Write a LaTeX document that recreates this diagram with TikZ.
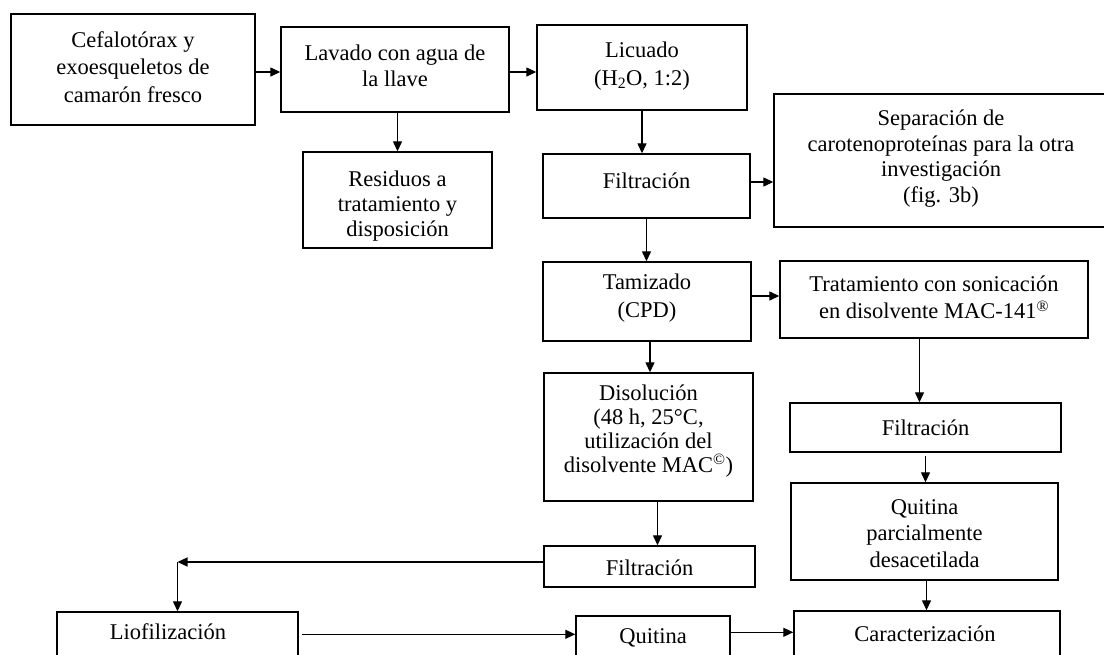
\documentclass[tikz,border=0pt]{standalone}
\usepackage{fontspec}
\setmainfont{Liberation Serif}
\usetikzlibrary{arrows.meta}
\begin{document}
\begin{tikzpicture}[x=1pt,y=-1pt,
  box/.style={draw,line width=1.4pt,rectangle,inner sep=0pt},
  txt/.style={align=center,inner sep=0pt,font=\fontsize{22.5}{#1}\selectfont},
  txt/.default=25,
  arr/.style={line width=1.3pt,-{Triangle[length=10pt,width=9pt]}}]
\useasboundingbox (0,0) rectangle (1104,654);
\clip (0,0) rectangle (1104,654);
% boxes
\node[box,minimum width=244pt,minimum height=111pt] (cef) at (133,69.5) {};
\node[box,minimum width=228pt,minimum height=85pt] (lav) at (395,69.5) {};
\node[box,minimum width=210pt,minimum height=85pt] (lic) at (642,67.5) {};
\node[box,minimum width=189pt,minimum height=96pt] (res) at (397.5,200) {};
\node[box,minimum width=207pt,minimum height=64pt] (fil1) at (646.5,186) {};
\node[box,minimum width=334pt,minimum height=133pt] (sep) at (941,160.5) {};
\node[box,minimum width=208pt,minimum height=79pt] (tam) at (647,301.5) {};
\node[box,minimum width=308pt,minimum height=77pt] (tra) at (934,299.5) {};
\node[box,minimum width=209pt,minimum height=128pt] (dis) at (648.5,437) {};
\node[box,minimum width=271pt,minimum height=49pt] (fil3) at (925.5,427.5) {};
\node[box,minimum width=267pt,minimum height=97pt] (qp) at (924.5,531.5) {};
\node[box,minimum width=211pt,minimum height=41pt] (fil2) at (649.5,566.5) {};
\node[box,minimum width=241pt,minimum height=80pt] (lio) at (177.5,652) {};
\node[box,minimum width=154pt,minimum height=80pt] (qui) at (653,656) {};
\node[box,minimum width=266pt,minimum height=80pt] (car) at (927,651) {};
% texts
\node[txt=27.5] (cef-t) at (133,67) {Cefalotórax y\\exoesqueletos de\\camarón fresco};
\node[txt=26] (lav-t) at (395,65.5) {Lavado con agua de\\la llave};
\node[txt=28] (lic-t) at (642,66) {Licuado\\(H\textsubscript{2}O, 1:2)};
\node[txt=25] (res-t) at (397.5,206.5) {Residuos a\\tratamiento y\\disposición};
\node[txt] (fil1-t) at (646.5,181) {Filtración};
\node[txt=25.5] (sep-t) at (941,158.5) {Separación de\\carotenoproteínas para la otra\\investigación\\(fig. 3b)};
\node[txt=28.5] (tam-t) at (647,298) {Tamizado\\(CPD)};
\node[txt=27.5] (tra-t) at (934,297.5) {Tratamiento con sonicación\\en disolvente MAC-141\textsuperscript{®}};
\node[txt=24] (dis-t) at (648.5,431) {Disolución\\(48 h, 25°C,\\utilización del\\disolvente MAC\textsuperscript{©})};
\node[txt] (fil3-t) at (925.5,428) {Filtración};
\node[txt=26.5] (qp-t) at (924.5,533.5) {Quitina\\parcialmente\\desacetilada};
\node[txt] (fil2-t) at (649.5,568) {Filtración};
\node[txt] (lio-t) at (168,632) {Liofilización};
\node[txt] (qui-t) at (653,638) {Quitina};
\node[txt] (car-t) at (925,634) {Caracterización};
% connectors
\draw[arr] ([yshift=-2.5pt]cef.east) -- ([yshift=-2.5pt]cef.east -| lav.west);
\draw[arr] ([yshift=-2.5pt]lav.east) -- ([yshift=-2.5pt]lav.east -| lic.west);
\draw[arr] (res.north |- lav.south) -- (res.north);
\draw[arr] (lic.south) -- (lic.south |- fil1.north);
\draw[arr] ([yshift=4pt]fil1.east) -- ([yshift=4pt]fil1.east -| sep.west);
\draw[arr] (fil1.south) -- (fil1.south |- tam.north);
\draw[arr] ([yshift=5.5pt]tam.east) -- ([yshift=5.5pt]tam.east -| tra.west);
\draw[arr] ([xshift=3pt]tam.south) -- ([xshift=3pt]tam.south |- dis.north);
\draw[arr] ([xshift=-6pt]fil3.north |- tra.south) -- ([xshift=-6pt]fil3.north);
\draw[arr] ([yshift=-3pt]fil3.south) -- (fil3.south |- qp.north);
\draw[arr] ([xshift=2pt]qp.south) -- ([xshift=2pt]qp.south |- car.north);
\draw[arr] ([xshift=9pt]dis.south) -- ([xshift=9pt]dis.south |- fil2.north);
\coordinate (fil2w) at ([yshift=4.5pt]fil2.west);
\coordinate (corner) at (lio.north |- fil2w);
\draw[arr] (fil2w) -- (corner);
\draw[arr] (corner) -- (lio.north);
\draw[arr] ([shift={(3pt,-23pt)}]lio.north east) -- ([yshift=-19pt]qui.north west);
\draw[arr] ([yshift=-17pt]qui.north east) -- ([yshift=-22pt]car.north west);
\end{tikzpicture}
\end{document}
